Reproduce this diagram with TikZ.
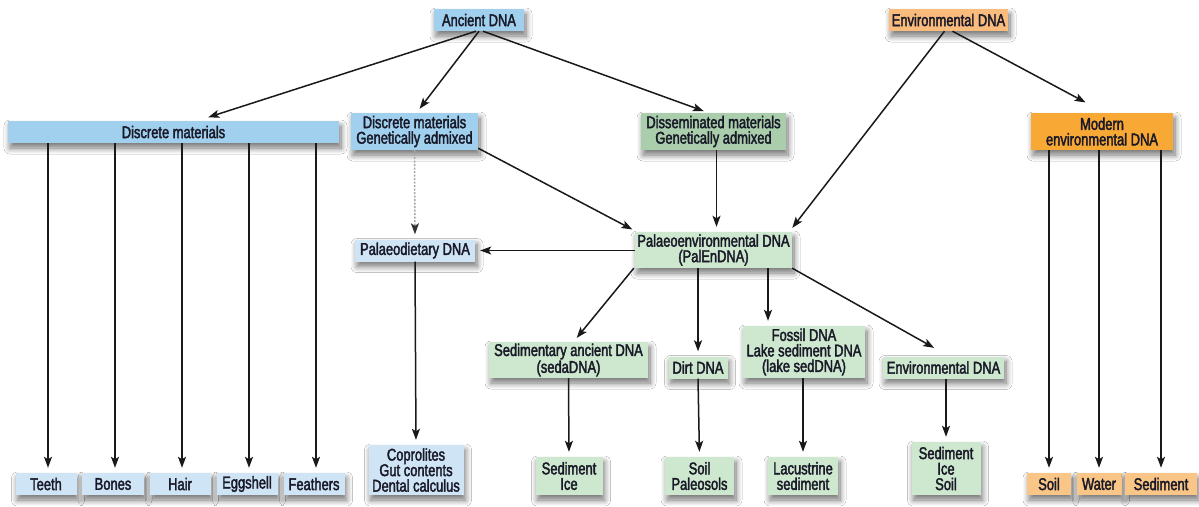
\documentclass[tikz,border=0pt]{standalone}
\usepackage{fontspec}
\setmainfont[FakeStretch=0.76,FakeBold=2.2]{Liberation Sans}
\usetikzlibrary{arrows.meta,shadows.blur}
\definecolor{bdark}{RGB}{160,208,238}
\definecolor{blight}{RGB}{207,229,246}
\definecolor{gdark}{RGB}{170,206,172}
\definecolor{glight}{RGB}{205,232,206}
\definecolor{otop}{RGB}{250,188,125}
\definecolor{odark}{RGB}{248,168,52}
\definecolor{olight}{RGB}{250,198,135}
\definecolor{txt}{RGB}{25,25,40}
\tikzset{
  box/.style={rectangle, inner sep=0pt, align=center, text=txt,
    font=\fontsize{17}{15.5}\selectfont,
    blur shadow={shadow xshift=2pt, shadow yshift=-5pt, shadow blur radius=6pt, shadow blur steps=10, shadow opacity=55}},
  bd/.style={box, fill=bdark}, bl/.style={box, fill=blight},
  gd/.style={box, fill=gdark}, gl/.style={box, fill=glight},
  ot/.style={box, fill=otop}, od/.style={box, fill=odark}, ol/.style={box, fill=olight},
  arr/.style={line width=1.5pt, draw=black!90, -{Stealth[length=11pt,width=8pt,inset=2.5pt]}, shorten >=5pt},
  dotarr/.style={line width=1.5pt, draw=gray!70, dash pattern=on 2pt off 1.5pt, -{Stealth[length=11pt,width=8pt,inset=2.5pt,black!80]}, shorten >=5pt}
}
\begin{document}
\begin{tikzpicture}[x=1pt,y=-1pt]
\fill[white] (0,0) rectangle (1199,506);
\useasboundingbox (0,0) rectangle (1199,506);
% top
\node[bd, minimum width=90, minimum height=22] (anc) at (479,20) {Ancient DNA};
\node[ot, minimum width=119, minimum height=22] (envtop) at (948.5,20) {Environmental DNA};
% row 2
\node[bd, minimum width=331, minimum height=22] (dm) at (173.5,132) {Discrete materials};
\node[bd, minimum width=127, minimum height=37] (dmga) at (414.5,131.5) {Discrete materials\\Genetically admixed};
\node[gd, minimum width=145, minimum height=37] (diss) at (713.5,131.5) {Disseminated materials\\Genetically admixed};
\node[od, minimum width=142, minimum height=37] (modern) at (1102,131.5) {Modern\\environmental DNA};
% row 3
\node[bl, minimum width=120, minimum height=22] (pdiet) at (415,250.5) {Palaeodietary DNA};
\node[gl, minimum width=157, minimum height=36] (palen) at (713.5,250) {Palaeoenvironmental DNA\\(PalEnDNA)};
% row 4
\node[gl, minimum width=159, minimum height=36] (seda) at (568.5,360) {Sedimentary ancient DNA\\(sedaDNA)};
\node[gl, minimum width=59, minimum height=22] (dirt) at (698,367.5) {Dirt DNA};
\node[gl, minimum width=122, minimum height=52] (fossil) at (804,352) {Fossil DNA\\Lake sediment DNA\\(lake sedDNA)};
\node[gl, minimum width=121, minimum height=22] (envg) at (943.5,367.5) {Environmental DNA};
% bottom
\node[bl, minimum width=61, minimum height=22] (teeth) at (46,484) {Teeth};
\node[bl, minimum width=62, minimum height=22] (bones) at (113,484) {Bones};
\node[bl, minimum width=61, minimum height=22] (hair) at (180,484) {Hair};
\node[bl, minimum width=61, minimum height=22] (egg) at (247,484) {Eggshell};
\node[bl, minimum width=61, minimum height=22] (feath) at (314,484) {Feathers};
\node[bl, minimum width=95, minimum height=50] (copro) at (416,470) {Coprolites\\Gut contents\\Dental calculus};
\node[gl, minimum width=67, minimum height=38] (sedice) at (569,476) {Sediment\\Ice};
\node[gl, minimum width=69, minimum height=38] (soilp) at (699.5,476) {Soil\\Paleosols};
\node[gl, minimum width=70, minimum height=38] (lacus) at (803,476) {Lacustrine\\sediment};
\node[gl, minimum width=69, minimum height=53] (sis) at (946,468.5) {Sediment\\Ice\\Soil};
\node[ol, minimum width=44, minimum height=22] (soil) at (1049,484) {Soil};
\node[ol, minimum width=45, minimum height=22] (water) at (1099,484) {Water};
\node[ol, minimum width=72, minimum height=22] (sedim) at (1161,484) {Sediment};
% connectors from Ancient DNA
\draw[arr] ([xshift=-3pt]anc.south) -- ([xshift=30pt,yshift=2pt]dm.north);
\draw[arr] (anc.south) -- ([xshift=2pt]dmga.north);
\draw[arr] ([xshift=4pt]anc.south) -- ([xshift=-5pt]diss.north);
% from Environmental DNA
\draw[arr] ([xshift=-4pt]envtop.south) -- ([xshift=-3pt]palen.north east);
\draw[arr] ([xshift=4pt]envtop.south) -- ([xshift=-12pt,yshift=8pt]modern.north);
% into PalEnDNA
\draw[arr] ([yshift=2pt]dmga.south east) -- ([xshift=2pt]palen.north west);
\draw[arr] ([xshift=3pt]diss.south) -- ([xshift=3pt]palen.north);
% Palaeodietary
\draw[dotarr] (dmga.south) -- (pdiet.north);
\draw[arr] (palen.west |- pdiet.east) -- (pdiet.east);
\draw[arr] (pdiet.south) -- (copro.north);
% from PalEnDNA
\draw[arr] ([xshift=-1pt]palen.south west) -- ([xshift=5pt]seda.north);
\draw[arr] (palen.south -| dirt.north) -- (dirt.north);
\draw[arr] ([xshift=-36pt]palen.south -| fossil.north) -- ([xshift=-36pt]fossil.north);
\draw[arr] (palen.south east) -- ([xshift=-5pt,yshift=6pt]envg.north);
% down to bottom row
\draw[arr] (seda.south) -- (sedice.north);
\draw[arr] (dirt.south) -- (soilp.north);
\draw[arr] (fossil.south -| lacus.north) -- (lacus.north);
\draw[arr] (envg.south -| sis.north) -- (sis.north);
% discrete materials
\foreach \n in {teeth,bones,hair,egg,feath}
  \draw[arr] ([xshift=2pt]dm.south -| \n.north) -- ([xshift=2pt]\n.north);
% modern
\foreach \n in {soil,water,sedim}
  \draw[arr] (modern.south -| \n.north) -- (\n.north);
\end{tikzpicture}
\end{document}
